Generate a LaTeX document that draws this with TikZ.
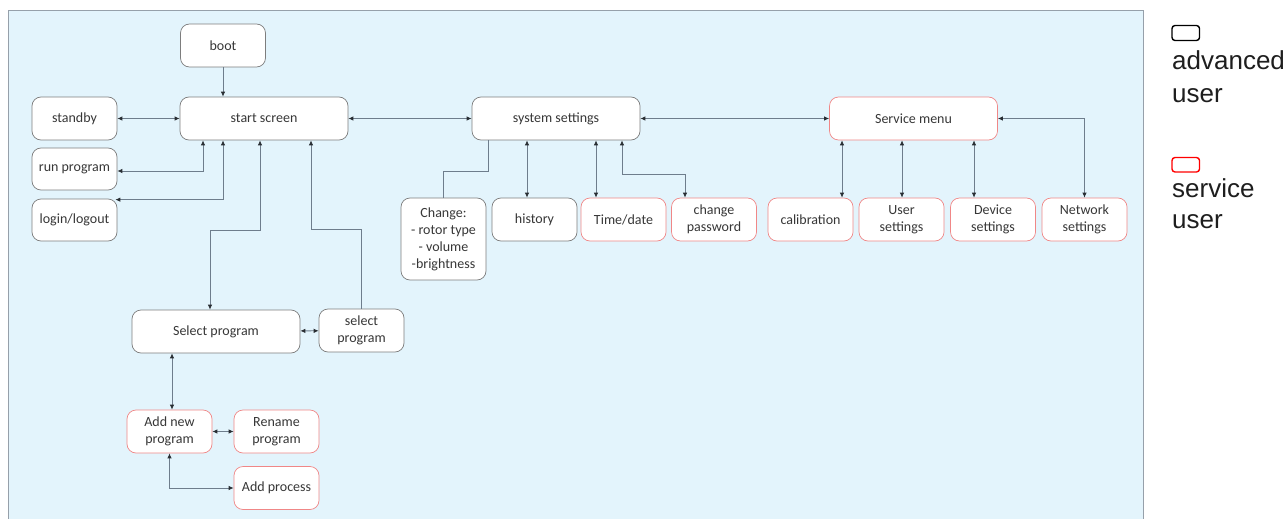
\documentclass[tikz,border=0pt]{standalone}
\usepackage{fontspec}
\setmainfont{Carlito}
\newfontfamily\legendfont{Liberation Sans}
\usetikzlibrary{arrows.meta}
\definecolor{bgblue}{RGB}{227,244,252}
\definecolor{bgborder}{RGB}{150,160,170}
\definecolor{linec}{RGB}{110,125,140}
\definecolor{tipc}{RGB}{40,45,50}
\definecolor{boxgray}{RGB}{125,125,125}
\definecolor{boxred}{RGB}{240,135,135}
\definecolor{txt}{RGB}{55,55,55}
\definecolor{legtxt}{RGB}{30,30,30}
\begin{document}
\begin{tikzpicture}[x=1pt,y=-1pt,
  box/.style={draw=boxgray, fill=white, rounded corners=9pt, line width=0.7pt, align=center,
    font=\fontsize{14}{17}\selectfont, text=txt, inner sep=0pt, minimum height=43pt},
  wbox/.style={box, minimum width=168pt},
  sbox/.style={box, minimum width=85pt},
  svc/.style={draw=boxred},
  conn/.style={draw=linec, line width=0.8pt},
  bi/.style={conn, {Latex[length=5pt,width=4.5pt,color=tipc]}-{Latex[length=5pt,width=4.5pt,color=tipc]}},
  toend/.style={conn, -{Latex[length=5pt,width=4.5pt,color=tipc]}},
  tostart/.style={conn, {Latex[length=5pt,width=4.5pt,color=tipc]}-},
  legtext/.style={anchor=base west, font=\legendfont\fontsize{26}{32}\selectfont, text=legtxt, inner sep=0pt},
  legbox/.style={line width=1.4pt, rounded corners=3pt},
]
\useasboundingbox (0,0) rectangle (1287,519);
\fill[bgblue] (8,10) rectangle (1143,519);
\draw[bgborder, line width=0.8pt] (8,519) -- (8,10) -- (1143,10) -- (1143,519);

% nodes
\node[sbox] (boot) at (223,45.5) {boot};
\node[wbox] (start) at (264,118.5) {start screen};
\node[sbox] (standby) at (74.5,118.5) {standby};
\node[sbox, minimum height=42pt] (run) at (74.5,169) {run program};
\node[sbox, minimum height=42pt] (login) at (74.5,220) {login/logout};
\node[wbox] (sys) at (556,118.5) {system settings};
\node[sbox, minimum height=82pt] (change) at (443.5,239) {Change:\\- rotor type\\- volume\\-brightness};
\node[sbox] (hist) at (534.5,219.5) {history};
\node[sbox,svc] (time) at (623.5,219.5) {Time/date};
\node[sbox,svc] (pw) at (714,219.5) {change\\password};
\node[wbox,svc] (service) at (913.5,118.5) {Service menu};
\node[sbox,svc] (cal) at (810.5,219.5) {calibration};
\node[sbox,svc] (user) at (901.5,219.5) {User\\settings};
\node[sbox,svc] (dev) at (993,219.5) {Device\\settings};
\node[sbox,svc] (net) at (1084.5,219.5) {Network\\settings};
\node[wbox] (sel) at (216,331.5) {Select program};
\node[sbox] (sel2) at (361.5,330.5) {select\\program};
\node[sbox,svc] (addnew) at (169.5,431.5) {Add new\\program};
\node[sbox,svc] (rename) at (276.5,431.5) {Rename\\program};
\node[sbox,svc] (addproc) at (276.5,488) {Add process};

% connectors
\draw[toend] (boot) -- (boot |- start.north);
\draw[bi] (standby) -- (start);
\draw[bi] ([xshift=-61pt]start.south) |- ([yshift=-2pt]run.east);
\draw[bi] ([xshift=-41pt]start.south) |- ([xshift=-2pt,yshift=-1pt]login.north east);
\draw[bi] ([xshift=-4pt]start.south) -- ++(0,90) -| ([xshift=-6pt]sel.north);
\draw[tostart] ([xshift=47pt]start.south) -- ++(0,89) -| (sel2.north);
\draw[bi] (sel) -- (sel2);
\draw[bi] ([xshift=-44pt]sel.south) -- ([xshift=-44pt]sel.south |- addnew.north);
\draw[bi] (addnew) -- (rename);
\draw[bi] (addnew.south) |- (addproc.west);

\draw[bi] (start) -- (sys);
\draw[bi] (sys) -- (service);
\draw[conn] ([xshift=-68pt]sys.south) -- ++(0,31) -| (change.north);
\draw[bi] ([xshift=-29pt]sys.south) -- ([xshift=-29pt]sys.south |- hist.north);
\draw[bi] ([xshift=40pt]sys.south) -- ([xshift=40pt]sys.south |- time.north);
\draw[bi] ([xshift=66pt]sys.south) -- ++(0,34) -| ([xshift=-29pt]pw.north);

\draw[bi] ([xshift=-71.5pt]service.south) -- ([xshift=-71.5pt]service.south |- cal.north);
\draw[bi] ([xshift=-11.5pt]service.south) -- ([xshift=-11.5pt]service.south |- user.north);
\draw[bi] ([xshift=60.5pt]service.south) -- ([xshift=60.5pt]service.south |- dev.north);
\draw[bi] (service.east) -| (net.north);

% legend
\draw[legbox, black] (1172,25.5) rectangle (1199.5,40.5);
\node[legtext] (leg1a) at (1172,70) {advanced};
\node[legtext] (leg1b) at (1172,102) {user};
\draw[legbox, red] (1172,157.5) rectangle (1199.5,172);
\node[legtext] (leg2a) at (1172,197) {service};
\node[legtext] (leg2b) at (1172,228) {user};
\end{tikzpicture}
\end{document}
